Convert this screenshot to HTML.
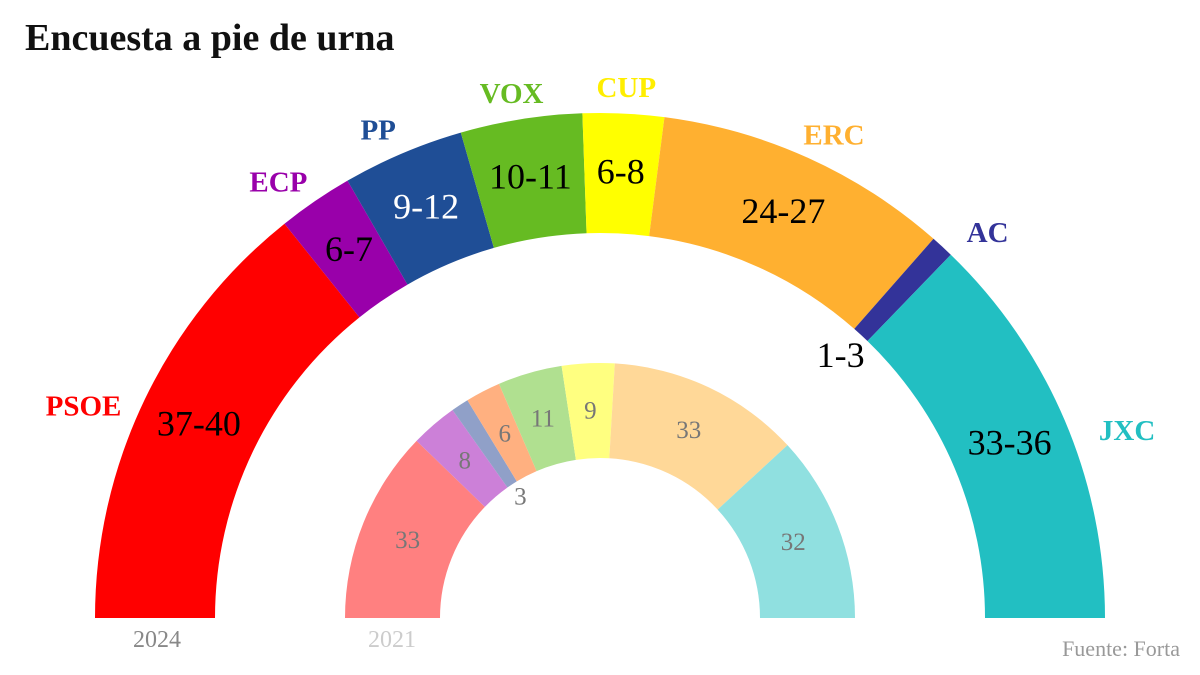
<!DOCTYPE html>
<html><head><meta charset="utf-8"><style>
body{margin:0;background:#fff;}
svg{display:block;font-family:"Liberation Serif",serif;}
</style></head><body>
<svg id="chart" width="1200" height="675" viewBox="0 0 1200 675">
<text x="25" y="50" font-size="38" font-weight="bold" fill="#111">Encuesta a pie de urna</text>
<g id="outer"></g>
<g id="inner"></g>
<text x="157" y="647" font-size="24" fill="#888" text-anchor="middle">2024</text>
<text x="392" y="647" font-size="24" fill="#ccc" text-anchor="middle">2021</text>
<text x="1180" y="656" font-size="22" fill="#999" text-anchor="end">Fuente: Forta</text>
</svg>
<script>
const parties=["PSOE","ECP","PP","VOX","CUP","ERC","AC","JXC"];
const seats2024=[38.5,6.5,10.5,10.5,7,25.5,2,34.5];
const labels2024=["37-40","6-7","9-12","10-11","6-8","24-27","1-3","33-36"];
const seats2021=[33,8,3,6,11,9,33,32];
const labels2021=["33","8","3","6","11","9","33","32"];
const colors2024=["#ff0000","#9900aa","#1f4e96","#66bb22","#ffff00","#ffb030","#333399","#22bfc2"];
const colors2021=["#ff8080","#cc80d8","#90a0c8","#ffb080","#b0e090","#ffff80","#ffd898","#90e0e0"];
const valueColors=["#000","#000","#fff","#000","#000","#000","#000","#000"];
const nameColors=["#ff0000","#9900aa","#1f4e96","#66bb22","#ffee00","#ffb030","#333399","#22bfc2"];
const NS="http://www.w3.org/2000/svg";
const cx=600,cy=618;
function pt(r,a){return [cx+r*Math.cos(a),cy-r*Math.sin(a)];}
function sector(R,r,a0,a1){
  const p1=pt(R,a0),p2=pt(R,a1),p3=pt(r,a1),p4=pt(r,a0);
  const lg=(a0-a1)>Math.PI?1:0;
  return `M${p1[0]},${p1[1]} A${R},${R} 0 ${lg} 1 ${p2[0]},${p2[1]} L${p3[0]},${p3[1]} A${r},${r} 0 ${lg} 0 ${p4[0]},${p4[1]} Z`;
}
function txt(g,x,y,s,size,fill,anchor,bold){
  const t=document.createElementNS(NS,"text");
  t.setAttribute("x",x);t.setAttribute("y",y);t.setAttribute("font-size",size);
  t.setAttribute("fill",fill);t.setAttribute("text-anchor",anchor);
  t.setAttribute("dominant-baseline","middle");
  if(bold)t.setAttribute("font-weight","bold");
  t.textContent=s;g.appendChild(t);return t;
}
function draw(gid,vals,cols,R,r,year){
  const g=document.getElementById(gid);
  const total=vals.reduce((a,b)=>a+b,0);
  let acc=0;
  vals.forEach((v,i)=>{
    const a0=Math.PI*(1-acc/total);acc+=v;const a1=Math.PI*(1-acc/total);
    const p=document.createElementNS(NS,"path");
    p.setAttribute("d",sector(R,r,a0,a1));p.setAttribute("fill",cols[i]);
    
    
    g.appendChild(p);
    const am=(a0+a1)/2;
    if(year==2024){
      const rv=parties[i]=="AC"?355:(R+r)/2;
      const q=pt(rv,am);
      const t=txt(g,q[0],q[1]+2,labels2024[i],36,valueColors[i],"middle",false);
      
      
      const c=Math.cos(am);
      const an=am-0.07*c;
      const n=pt(528+36*c*c,an);
      const t2=txt(g,n[0],n[1],parties[i],29,nameColors[i],"middle",true);
      
      
    }else{
      const rv=vals[i]<5?145:(R+r)/2;
      const q=pt(rv,am);
      const t=txt(g,q[0],q[1]+2,labels2021[i],25,"#777","middle",false);
      
      
    }
  });
}
draw("outer",seats2024,colors2024,505,385,2024);
draw("inner",seats2021,colors2021,255,160,2021);
</script>
</body></html>
